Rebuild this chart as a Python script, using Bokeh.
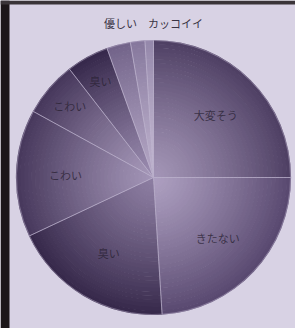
import math
from bokeh.plotting import figure
from bokeh.models import ColumnDataSource, Range1d, BoxAnnotation
from bokeh.core.properties import value
from bokeh.embed import file_html
from bokeh.resources import INLINE

# ---- data ----
categories = ["大変そう", "きたない", "臭い", "こわい", "きつい", "暗い", "その他1", "その他2", "その他3"]
shares = [25.0, 24.0, 19.0, 15.0, 6.5, 5.0, 2.8, 1.7, 1.0]
shown_labels = ["大変そう", "きたない", "臭い", "こわい", "こわい", "臭い", "", "", ""]
title_text = "優しい　カッコイイ"

# ---- styles ----
inner_cols = ["#a395b6", "#ad9fc0", "#8d7ea2", "#a294b6", "#a698b9", "#9b8cb0", "#b4a7c5", "#beb2cd", "#c5bad3"]
outer_cols = ["#4e3f63", "#58486f", "#36284a", "#46375b", "#45365a", "#35274a", "#726389", "#85779c", "#9487aa"]
bg = "#d8d2e4"
R = 137.0
NRING = 36
W, H = 295, 328

def hex2rgb(h):
    h = h.lstrip("#")
    return tuple(int(h[i:i + 2], 16) for i in (0, 2, 4))

def lerp(c1, c2, t):
    a, b = hex2rgb(c1), hex2rgb(c2)
    return "#%02x%02x%02x" % tuple(int(round(a[i] + (b[i] - a[i]) * t)) for i in range(3))

total = sum(shares)
starts, ends = [], []
acc = 0.0
for s in shares:
    starts.append(acc / total * 2 * math.pi)
    acc += s
    ends.append(acc / total * 2 * math.pi)

rx, ry, rin, rout, rsa, rea, rcol = [], [], [], [], [], [], []
for i in range(len(shares)):
    for k in range(NRING):
        t0 = k / NRING
        t1 = (k + 1) / NRING
        rx.append(0); ry.append(0)
        rin.append(R * t0); rout.append(R * t1 + 0.6)
        rsa.append(math.pi / 2 - starts[i])
        rea.append(math.pi / 2 - ends[i])
        tm = (t0 + t1) / 2
        rcol.append(lerp(inner_cols[i], outer_cols[i], tm ** 1.2))
ring_src = ColumnDataSource(dict(x=rx, y=ry, ri=rin, ro=rout, sa=rsa, ea=rea, c=rcol))

cx, cy = 153, 177  # pie centre in pixels from top-left
p = figure(width=W, height=H, output_backend="svg", toolbar_location=None,
           x_range=Range1d(-cx, W - cx), y_range=Range1d(-(H - cy), cy),
           min_border=0, background_fill_color=bg, border_fill_color=bg)
p.axis.visible = False
p.grid.visible = False
p.outline_line_color = None

p.annular_wedge(x="x", y="y", inner_radius="ri", outer_radius="ro", start_angle="sa", end_angle="ea",
                direction="clock", fill_color="c", line_color=None, source=ring_src)

edge_src = ColumnDataSource(dict(x=[0] * len(shares), y=[0] * len(shares),
                                 sa=[math.pi / 2 - a for a in starts], ea=[math.pi / 2 - a for a in ends]))
p.wedge(x="x", y="y", radius=R, start_angle="sa", end_angle="ea", direction="clock",
        fill_color=None, line_color="#b9afca", line_width=0.8, line_alpha=0.6, source=edge_src)

lx, ly, lt = [], [], []
for i, lab in enumerate(shown_labels):
    if not lab:
        continue
    mid = (starts[i] + ends[i]) / 2
    rr = 88 if shares[i] > 10 else 110
    lx.append(rr * math.sin(mid))
    ly.append(rr * math.cos(mid))
    lt.append(lab)
p.text(x=lx, y=ly, text=lt, text_align="center", text_baseline="middle",
       text_font=value("Noto Sans CJK JP"), text_font_size="11px", text_color="#2b2335", text_alpha=0.8)

p.text(x=[0], y=[cy - 22], text=[title_text], text_align="center", text_baseline="middle",
       text_font=value("Noto Sans CJK JP"), text_font_size="11px", text_color="#3a3444")

# dark photo frame edges
p.add_layout(BoxAnnotation(left=-cx, right=-cx + 9, fill_color="#1c1619", fill_alpha=1, line_color=None))
p.add_layout(BoxAnnotation(bottom=cy - 4, top=cy, fill_color="#3a3438", fill_alpha=1, line_color=None))

open("out.html", "w").write(file_html(p, INLINE))
